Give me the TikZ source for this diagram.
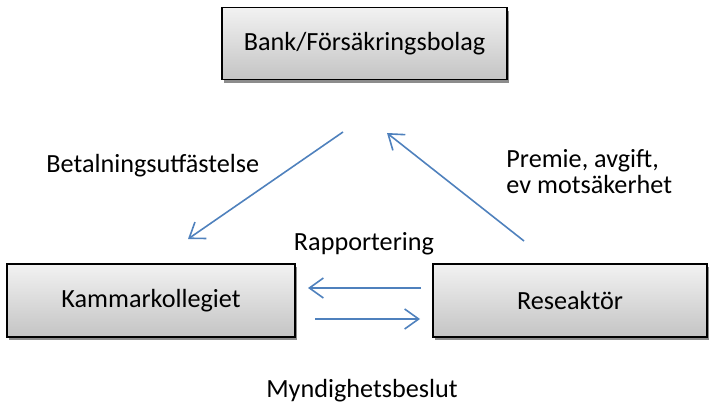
\documentclass[tikz,border=0pt]{standalone}
\usepackage{fontspec}
\setmainfont{Carlito}
\usetikzlibrary{arrows.meta,shadows}
\definecolor{arrowblue}{RGB}{79,129,189}
\definecolor{boxtop}{RGB}{242,242,242}
\definecolor{boxbot}{RGB}{196,196,196}
\begin{document}
\begin{tikzpicture}[x=0.5pt,y=-0.5pt,
  box/.style={draw=black,line width=0.9pt,rectangle,top color=boxtop,bottom color=boxbot,
    drop shadow={shadow xshift=1.2pt,shadow yshift=-1.6pt,opacity=0.45,fill=black},
    font=\fontsize{13.1}{15}\selectfont,inner sep=0pt},
  lbl/.style={font=\fontsize{13.1}{13.5}\selectfont,inner sep=0pt},
  conn/.style={draw=arrowblue,line width=0.8pt,-{Straight Barb[length=7pt,width=10pt]}}
]
\useasboundingbox (0,0) rectangle (711,406);
\node[box,minimum width=285*0.5pt,minimum height=72*0.5pt] (bank) at (364.5,43.5) {Bank/Försäkringsbolag};
\node[box,minimum width=288*0.5pt,minimum height=73*0.5pt] (kk) at (151,300.5) {Kammarkollegiet};
\node[box,minimum width=274*0.5pt,minimum height=73*0.5pt] (rese) at (570,300.5) {Reseaktör};

\coordinate (d1s) at (343,132);
\coordinate (d1e) at (188,239);
\coordinate (d2s) at (524,241);
\coordinate (d2e) at (387,133);
\coordinate (h1s) at (421,288);
\coordinate (h1e) at (308,288);
\coordinate (h2s) at (315,319);
\coordinate (h2e) at (420,319);

\draw[conn] (d1s) -- (d1e);
\draw[conn] (d2s) -- (d2e);
\draw[conn] (h1s) -- (h1e);
\draw[conn] (h2s) -- (h2e);

\node[lbl,anchor=base west] (betal) at (46,173) {Betalningsutfästelse};
\node[lbl,anchor=base west] (prem1) at (506,168) {Premie, avgift,};
\node[lbl,anchor=base west] (prem2) at (506,193) {ev motsäkerhet};
\node[lbl,anchor=base] (rapp) at (364,250) {Rapportering};
\node[lbl,anchor=base] (mynd) at (362,397) {Myndighetsbeslut};
\end{tikzpicture}
\end{document}
